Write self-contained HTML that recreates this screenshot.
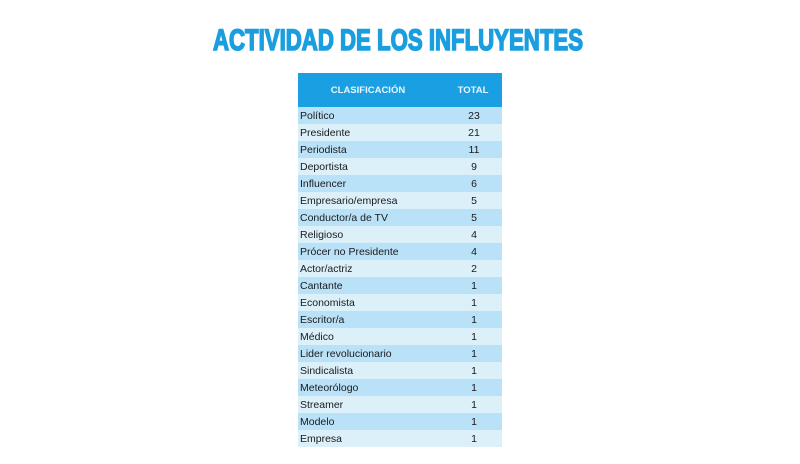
<!DOCTYPE html>
<html><head><meta charset="utf-8"><style>
body{margin:0;background:#fff;width:800px;height:464px;position:relative;overflow:hidden;font-family:"Liberation Sans",sans-serif}
table{position:absolute;left:298px;top:73px;width:204px;border-collapse:collapse;font-size:10.5px;color:#1a1a1a}
th{background:#1aa0e2;color:#e8f6ff;height:34px;font-size:9.5px;font-weight:bold;padding:0}
td{height:17px;padding:2px 0 0 2px;line-height:15px;box-sizing:border-box}
td.n{text-align:center;width:58px}
tr:nth-child(odd) td{background:#b9e1f8}
tr:nth-child(even) td{background:#dcf0fa}
</style></head><body>
<svg style="position:absolute;left:0;top:0" width="800" height="60"><text x="213" y="50" textLength="370" lengthAdjust="spacingAndGlyphs" font-family="Liberation Sans" font-weight="bold" font-size="30" fill="#1a9ee0" stroke="#1a9ee0" stroke-width="1.6">ACTIVIDAD DE LOS INFLUYENTES</text></svg>
<table>
<thead><tr><th style="padding-right:6px">CLASIFICACIÓN</th><th>TOTAL</th></tr></thead>
<tbody>
<tr><td>Político</td><td class="n">23</td></tr>
<tr><td>Presidente</td><td class="n">21</td></tr>
<tr><td>Periodista</td><td class="n">11</td></tr>
<tr><td>Deportista</td><td class="n">9</td></tr>
<tr><td>Influencer</td><td class="n">6</td></tr>
<tr><td>Empresario/empresa</td><td class="n">5</td></tr>
<tr><td>Conductor/a de TV</td><td class="n">5</td></tr>
<tr><td>Religioso</td><td class="n">4</td></tr>
<tr><td>Prócer no Presidente</td><td class="n">4</td></tr>
<tr><td>Actor/actriz</td><td class="n">2</td></tr>
<tr><td>Cantante</td><td class="n">1</td></tr>
<tr><td>Economista</td><td class="n">1</td></tr>
<tr><td>Escritor/a</td><td class="n">1</td></tr>
<tr><td>Médico</td><td class="n">1</td></tr>
<tr><td>Lider revolucionario</td><td class="n">1</td></tr>
<tr><td>Sindicalista</td><td class="n">1</td></tr>
<tr><td>Meteorólogo</td><td class="n">1</td></tr>
<tr><td>Streamer</td><td class="n">1</td></tr>
<tr><td>Modelo</td><td class="n">1</td></tr>
<tr><td>Empresa</td><td class="n">1</td></tr>
</tbody></table>
</body></html>
